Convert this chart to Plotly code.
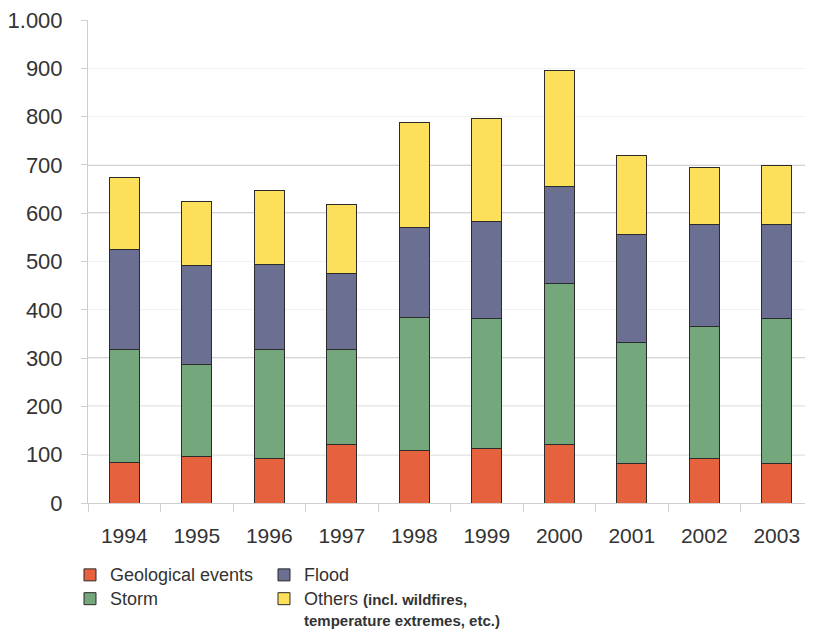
import plotly.graph_objects as go

years = ["1994", "1995", "1996", "1997", "1998", "1999", "2000", "2001", "2002", "2003"]
geological = [84, 96, 93, 121, 108, 112, 121, 81, 93, 81]
storm = [233, 190, 224, 196, 277, 270, 334, 252, 273, 302]
flood = [207, 205, 177, 159, 185, 200, 200, 222, 211, 194]
others = [150, 134, 152, 142, 218, 214, 240, 164, 118, 121]

y_ticks = [0, 100, 200, 300, 400, 500, 600, 700, 800, 900, 1000]
strong_grid = [100, 200, 300, 600, 700]

colors = {
    "geo": "#E6623F",
    "storm": "#74A77C",
    "flood": "#6B6F91",
    "others": "#FCE05B",
}

FONT = "Liberation Sans, Arial, sans-serif"
TXT = "#333333"


def big(s):
    return "<span style='font-size:18px'>" + s + "</span>"


def small_bold(s):
    return "<span style='font-size:15px'><b>" + s + "</b></span>"


fig = go.Figure()
line = dict(color="#2b2b2b", width=1)
fig.add_trace(go.Bar(x=years, y=geological, name=big("Geological events"),
                     marker=dict(color=colors["geo"], line=line), legend="legend"))
fig.add_trace(go.Bar(x=years, y=storm, name=big("Storm"),
                     marker=dict(color=colors["storm"], line=line), legend="legend"))
fig.add_trace(go.Bar(x=years, y=flood, name=big("Flood"),
                     marker=dict(color=colors["flood"], line=line), legend="legend2"))
fig.add_trace(go.Bar(
    x=years, y=others,
    name=big("Others ") + small_bold("(incl. wildfires,") + "<br>" + small_bold("temperature extremes, etc.)"),
    marker=dict(color=colors["others"], line=line), legend="legend2"))

shapes = []
for g in strong_grid:
    shapes.append(dict(type="line", xref="paper", yref="y", x0=0, x1=1, y0=g, y1=g,
                       line=dict(color="#a8a8a8", width=1.2), layer="below"))

# page body has an 8px margin, so the figure is sized to fit the 813x630 window
fig.update_layout(
    width=805, height=622,
    margin=dict(l=80, r=0, t=12, b=127, autoexpand=False),
    paper_bgcolor="white", plot_bgcolor="white",
    barmode="stack", bargap=0.59,
    separators=",.",
    font=dict(family=FONT, color=TXT),
    shapes=shapes,
    xaxis=dict(
        type="category", automargin=False,
        tickfont=dict(size=21, color=TXT, family=FONT),
        ticks="outside", tickson="boundaries", ticklen=8, tickcolor="#d0d0d0",
        showline=True, linecolor="#cfcfcf", linewidth=1,
        showgrid=False,
        ticklabelstandoff=14, ticklabeloverflow="allow",
    ),
    yaxis=dict(
        range=[0, 1000], automargin=False,
        tickvals=y_ticks,
        tickformat=",d",
        tickfont=dict(size=22, color=TXT, family=FONT),
        ticks="outside", ticklen=6, tickcolor="#cfcfcf",
        showline=True, linecolor="#cfcfcf", linewidth=1,
        showgrid=True, gridcolor="#f1f1f1", gridwidth=1,
        zeroline=False,
        ticklabelstandoff=14, ticklabeloverflow="allow",
    ),
    legend=dict(
        xref="container", yref="container",
        x=0.077, y=0.1158, xanchor="left", yanchor="top",
        orientation="v", traceorder="normal",
        font=dict(size=16, color=TXT, family=FONT),
        bgcolor="rgba(0,0,0,0)", tracegroupgap=0, itemwidth=30,
    ),
    legend2=dict(
        xref="container", yref="container",
        x=0.318, y=0.1158, xanchor="left", yanchor="top",
        orientation="v", traceorder="normal", valign="top",
        font=dict(size=16, color=TXT, family=FONT),
        bgcolor="rgba(0,0,0,0)", tracegroupgap=0, itemwidth=30,
    ),
)

fig.write_html("out.html")
